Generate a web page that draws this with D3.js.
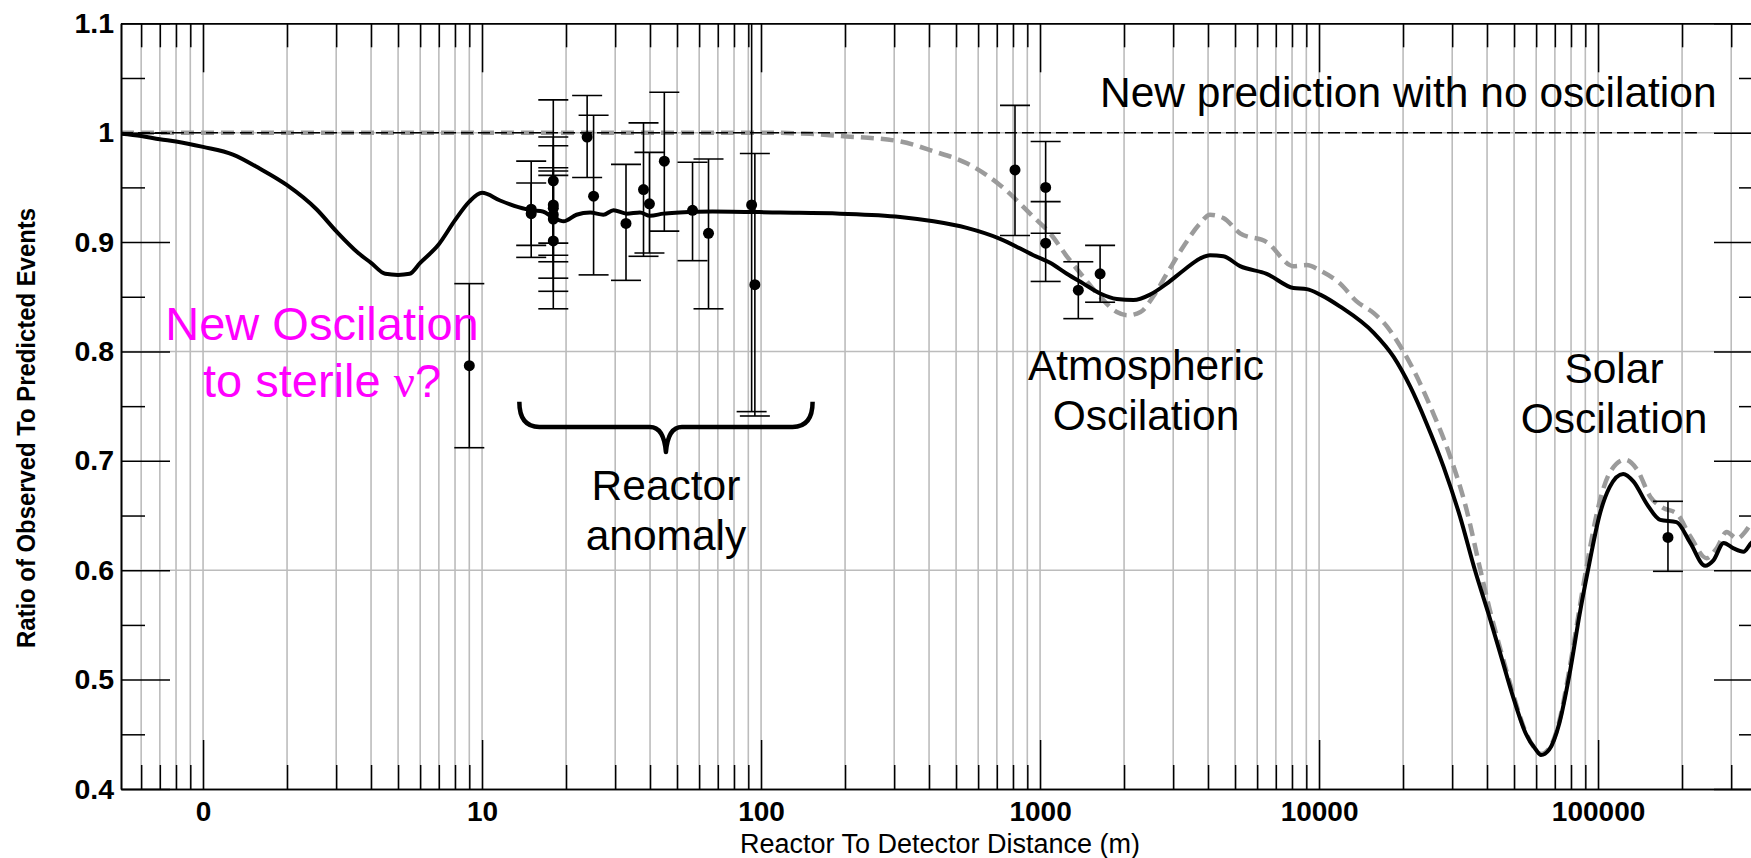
<!DOCTYPE html>
<html><head><meta charset="utf-8">
<script src="https://cdn.jsdelivr.net/npm/d3@7"></script>
<style>body{margin:0;background:#fff}svg{display:block;background:#fff}</style>
</head><body>
<svg id="chart" width="1751" height="858"></svg>
<script>
// ---------- data ----------
const xTickValues = [1, 10, 100, 1000, 10000, 100000];
const xTickLabels = ["0", "10", "100", "1000", "10000", "100000"];
const yTickValues = [0.4, 0.5, 0.6, 0.7, 0.8, 0.9, 1.0, 1.1];
const yTickLabels = ["0.4", "0.5", "0.6", "0.7", "0.8", "0.9", "1", "1.1"];
const yMinorValues = [0.45, 0.55, 0.65, 0.75, 0.85, 0.95, 1.05];
const yGridValues = [0.6, 0.8, 1.0];

// black solid: prediction with new (sterile) oscillation
const sterileDist = [0.508, 0.6, 0.7, 0.8, 1, 1.28, 1.6, 2, 2.55, 3, 3.6, 4, 4.5, 5, 5.5, 6, 7, 8, 9, 10,
  11.6, 13.5, 15.1, 16.5, 18.1, 19.6, 21.8, 24.4, 27.2, 29.6, 33, 36.8, 40, 44.7, 51, 67, 117, 192,
  315, 415, 546, 719, 946, 1086, 1247, 1430, 1641, 1884, 2162, 2480, 2845, 3264, 3745, 4064, 4539,
  5209, 6490, 8090, 9030, 10090, 11900, 15700, 18500, 21200, 24300, 27900, 32000, 36200, 40500,
  45300, 49200, 55000, 59800, 62400, 66800, 72600, 79000, 85900, 92000, 101600, 110000, 123000,
  134000, 150000, 167000, 191000, 214000, 242000, 259000, 282000, 306000, 332000, 354000, 390000];
const sterileRatio = [0.999, 0.997, 0.994, 0.992, 0.987, 0.980, 0.967, 0.952, 0.930, 0.910, 0.890, 0.881, 0.871, 0.870, 0.871, 0.881, 0.898, 0.920, 0.937, 0.945,
  0.938, 0.932, 0.929, 0.928, 0.922, 0.919, 0.925, 0.927, 0.925, 0.929, 0.926, 0.927, 0.924, 0.926, 0.927, 0.928, 0.927, 0.926,
  0.923, 0.919, 0.913, 0.903, 0.888, 0.881, 0.871, 0.862, 0.853, 0.848, 0.847, 0.852, 0.862, 0.874, 0.885, 0.888, 0.887,
  0.878, 0.871, 0.858, 0.857, 0.852, 0.841, 0.817, 0.795, 0.768, 0.734, 0.695, 0.649, 0.600, 0.560,
  0.518, 0.487, 0.451, 0.436, 0.431, 0.436, 0.460, 0.505, 0.560, 0.600, 0.652, 0.676, 0.688,
  0.681, 0.660, 0.646, 0.644, 0.625, 0.604, 0.609, 0.625, 0.620, 0.617, 0.625, 0.632];

// grey dashed: three-flavour prediction
const threeFlavorDist = [0.508, 100, 150, 192, 315, 415, 546, 719, 946, 1086, 1247, 1430, 1641, 1884, 2060, 2290,
  2540, 2845, 3264, 3745, 4064, 4539, 5209, 6490, 8090, 9030, 10090, 11900, 13600, 15700, 17500, 19300,
  21200, 25700, 29500, 33800, 37400, 40800, 45300, 49200, 55000, 59800, 62400, 66800, 72600, 79000, 85900,
  90500, 101600, 110000, 125000, 138000, 154000, 171000, 191000, 214000, 245000, 266000, 289000, 314000,
  341000, 354000, 390000];
const threeFlavorRatio = [1.0, 1.0, 0.999, 0.997, 0.992, 0.983, 0.972, 0.952, 0.923, 0.908, 0.887, 0.868, 0.850, 0.836, 0.833, 0.836,
  0.850, 0.871, 0.896, 0.917, 0.925, 0.922, 0.908, 0.900, 0.878, 0.879, 0.874, 0.862, 0.846, 0.835, 0.823, 0.807,
  0.789, 0.743, 0.704, 0.655, 0.606, 0.565, 0.522, 0.490, 0.452, 0.436, 0.432, 0.437, 0.462, 0.510, 0.566,
  0.600, 0.664, 0.689, 0.701, 0.692, 0.667, 0.657, 0.652, 0.631, 0.611, 0.620, 0.635, 0.629,
  0.637, 0.643, 0.650];

// thin dashed: new prediction with no oscillation
const noOscDist = [0.508, 226000];
const noOscRatio = [1.0, 1.0];

// reactor experiments
const expDist  = [9.0, 15, 15, 18, 18, 18, 18, 18, 18, 23.8, 25.1, 32.8, 37.9, 39.8, 45, 56.8, 64.8, 92.5, 95, 813, 1047, 1047, 1371, 1641, 178000];
const expRatio = [0.787, 0.926, 0.930, 0.956, 0.931, 0.921, 0.934, 0.901, 0.925, 0.996, 0.942, 0.917, 0.948, 0.935, 0.974, 0.929, 0.908, 0.934, 0.861, 0.966, 0.950, 0.899, 0.856, 0.871, 0.630];
const expLow   = [0.712, 0.897, 0.886, 0.882, 0.867, 0.855, 0.899, 0.839, 0.888, 0.959, 0.870, 0.865, 0.887, 0.890, 0.910, 0.883, 0.839, 0.745, 0.741, 0.906, 0.908, 0.864, 0.830, 0.845, 0.599];
const expHigh  = [0.862, 0.954, 0.974, 1.030, 0.996, 0.988, 0.968, 0.965, 0.961, 1.034, 1.016, 0.971, 1.009, 0.982, 1.037, 0.973, 0.976, 1.125, 0.981, 1.025, 0.992, 0.937, 0.882, 0.897, 0.663];

// reactor anomaly brace (distance span, ratio levels: ends, bar, tip)
const braceDist = [13.6, 45.6, 153];
const braceRatio = [0.754, 0.731, 0.708];

// ---------- layout ----------
const svg = d3.select("#chart");
const W = 1751, H = 858;
const x = d3.scaleLog().domain([0.508, 390000]).range([121, 1763]);
const y = d3.scaleLinear().domain([0.4, 1.1]).range([789, 23.3]);
const [X0, X1] = x.range();
const [Y0, Y1] = y.range(); // Y0 bottom, Y1 top

svg.append("rect").attr("width", W).attr("height", H).attr("fill", "#fff");

const defs = svg.append("defs");
defs.append("clipPath").attr("id", "plotClip").append("rect")
  .attr("x", X0).attr("y", Y1).attr("width", X1 - X0).attr("height", Y0 - Y1);
const blur = defs.append("filter").attr("id", "shadowBlur").attr("x", "-5%").attr("y", "-200%").attr("width", "110%").attr("height", "500%");
blur.append("feGaussianBlur").attr("stdDeviation", 2);

const allXTicks = x.ticks().filter(v => v > 0.508 && v <= 390000);
const minorXTicks = allXTicks.filter(v => !xTickValues.includes(v));

// grid
const grid = svg.append("g").attr("stroke", "#bcbcbc").attr("stroke-width", 1.6);
grid.selectAll("line.vx").data(allXTicks).join("line")
  .attr("x1", d => x(d)).attr("x2", d => x(d)).attr("y1", Y1).attr("y2", Y0);
grid.selectAll("line.hy").data(yGridValues).join("line")
  .attr("x1", X0).attr("x2", X1).attr("y1", d => y(d)).attr("y2", d => y(d));

const plot = svg.append("g").attr("clip-path", "url(#plotClip)");
const line = d3.line().x(d => x(d[0])).y(d => y(d[1]));
const smooth = d3.line().x(d => x(d[0])).y(d => y(d[1])).curve(d3.curveMonotoneX);

// shadow under the no-oscillation line
const noOsc = noOscDist.map((d, i) => [d, noOscRatio[i]]);
plot.append("path").datum(noOsc).attr("d", line)
  .attr("transform", "translate(0,4)")
  .attr("fill", "none").attr("stroke", "#d8d8d8").attr("stroke-width", 5)
  .attr("filter", "url(#shadowBlur)");

// three-flavour grey dashed
plot.append("path").datum(threeFlavorDist.map((d, i) => [d, threeFlavorRatio[i]]))
  .attr("d", smooth).attr("fill", "none").attr("stroke", "#9b9b9b")
  .attr("stroke-width", 4.5).attr("stroke-dasharray", "13,7");

// no oscillation thin dashed
plot.append("path").datum(noOsc).attr("d", line)
  .attr("fill", "none").attr("stroke", "#000").attr("stroke-width", 1.5)
  .attr("stroke-dasharray", "12,5");

// sterile black solid
plot.append("path").datum(sterileDist.map((d, i) => [d, sterileRatio[i]]))
  .attr("d", smooth).attr("fill", "none").attr("stroke", "#000")
  .attr("stroke-width", 4).attr("stroke-linejoin", "round");

// error bars + points
const exps = expDist.map((d, i) => ({d, r: expRatio[i], lo: expLow[i], hi: expHigh[i]}));
const eb = plot.append("g").attr("stroke", "#000").attr("stroke-width", 1.6);
eb.selectAll("line.v").data(exps).join("line")
  .attr("x1", e => x(e.d)).attr("x2", e => x(e.d))
  .attr("y1", e => y(e.lo)).attr("y2", e => y(Math.min(e.hi, 1.1)));
eb.selectAll("line.lo").data(exps).join("line")
  .attr("x1", e => x(e.d) - 15).attr("x2", e => x(e.d) + 15)
  .attr("y1", e => y(e.lo)).attr("y2", e => y(e.lo));
eb.selectAll("line.hi").data(exps.filter(e => e.hi < 1.1)).join("line")
  .attr("x1", e => x(e.d) - 15).attr("x2", e => x(e.d) + 15)
  .attr("y1", e => y(e.hi)).attr("y2", e => y(e.hi));
plot.append("g").selectAll("circle").data(exps).join("circle")
  .attr("cx", e => x(e.d)).attr("cy", e => y(e.r)).attr("r", 5.5).attr("fill", "#000");

// ---------- axes ----------
function styleAxis(g) {
  g.select(".domain").attr("stroke", "#000").attr("stroke-width", 1.6);
  g.selectAll(".tick line").attr("stroke", "#000").attr("stroke-width", 1.5);
}
const fontTick = "'Liberation Sans', Arial, Helvetica, sans-serif";

const gB = svg.append("g").attr("transform", `translate(0,${Y0})`)
  .call(d3.axisBottom(x).tickValues(xTickValues).tickFormat((d, i) => xTickLabels[i])
    .tickSizeInner(-49).tickSizeOuter(0).tickPadding(12));
styleAxis(gB);
gB.selectAll(".tick text").attr("font-family", fontTick).attr("font-weight", "bold")
  .attr("font-size", 28).attr("fill", "#000");
const gBm = svg.append("g").attr("transform", `translate(0,${Y0})`)
  .call(d3.axisBottom(x).tickValues(minorXTicks).tickFormat("").tickSizeInner(-24).tickSizeOuter(0));
styleAxis(gBm);

const gT = svg.append("g").attr("transform", `translate(0,${Y1})`)
  .call(d3.axisTop(x).tickValues(xTickValues).tickFormat("").tickSizeInner(-49).tickSizeOuter(0));
styleAxis(gT);
const gTm = svg.append("g").attr("transform", `translate(0,${Y1})`)
  .call(d3.axisTop(x).tickValues(minorXTicks).tickFormat("").tickSizeInner(-24).tickSizeOuter(0));
styleAxis(gTm);

const gL = svg.append("g").attr("transform", `translate(${X0},0)`)
  .call(d3.axisLeft(y).tickValues(yTickValues).tickFormat((d, i) => yTickLabels[i])
    .tickSizeInner(-49).tickSizeOuter(0).tickPadding(7));
styleAxis(gL);
gL.selectAll(".tick text").attr("font-family", fontTick).attr("font-weight", "bold")
  .attr("font-size", 28.5).attr("fill", "#000");
const gLm = svg.append("g").attr("transform", `translate(${X0},0)`)
  .call(d3.axisLeft(y).tickValues(yMinorValues).tickFormat("").tickSizeInner(-24).tickSizeOuter(0));
styleAxis(gLm);

const gR = svg.append("g").attr("transform", `translate(${X1},0)`)
  .call(d3.axisRight(y).tickValues(yTickValues).tickFormat("").tickSizeInner(-49).tickSizeOuter(0));
styleAxis(gR);
const gRm = svg.append("g").attr("transform", `translate(${X1},0)`)
  .call(d3.axisRight(y).tickValues(yMinorValues).tickFormat("").tickSizeInner(-24).tickSizeOuter(0));
styleAxis(gRm);

// axis titles
svg.append("text").attr("x", 940).attr("y", 853).attr("text-anchor", "middle")
  .attr("font-family", fontTick).attr("font-size", 27).attr("fill", "#000")
  .text("Reactor To Detector Distance (m)");
svg.append("text").attr("transform", "translate(35,428) rotate(-90)").attr("text-anchor", "middle")
  .attr("font-family", fontTick).attr("font-weight", "bold").attr("font-size", 25.5).attr("fill", "#000")
  .attr("textLength", 440).attr("lengthAdjust", "spacingAndGlyphs")
  .text("Ratio of Observed To Predicted Events");

// ---------- annotations ----------
const annFont = "'Liberation Sans', Arial, Helvetica, sans-serif";
function label(lines, cx, y0, dy, size, color, anchor) {
  const t = svg.append("text").attr("font-family", annFont).attr("font-size", size)
    .attr("fill", color).attr("text-anchor", anchor || "middle");
  lines.forEach((s, i) => t.append("tspan").attr("x", cx).attr("y", y0 + i * dy).text(s));
  return t;
}
label(["New prediction with no oscilation"], 1100, 107, 0, 42.5, "#000", "start");
label(["Atmospheric", "Oscilation"], 1146, 380, 50, 42.5, "#000");
label(["Solar", "Oscilation"], 1614, 383, 50, 42.5, "#000");
label(["Reactor", "anomaly"], 666, 500, 50, 42.5, "#000");

const mag = svg.append("text").attr("font-family", annFont).attr("font-size", 47)
  .attr("fill", "#ff00ff").attr("text-anchor", "middle");
mag.append("tspan").attr("x", 322).attr("y", 340).text("New Oscilation");
const l2 = mag.append("tspan").attr("x", 322).attr("y", 397);
l2.append("tspan").text("to sterile ");
l2.append("tspan").attr("font-family", "'Liberation Serif', 'Times New Roman', serif").text("ν");
l2.append("tspan").text("?");

// brace for reactor anomaly
const bx0 = x(braceDist[0]), bxm = x(braceDist[1]), bx1 = x(braceDist[2]);
const byTop = y(braceRatio[0]), byBar = y(braceRatio[1]), byTip = y(braceRatio[2]);
const bp = d3.path();
bp.moveTo(bx0, byTop);
bp.quadraticCurveTo(bx0, byBar, bx0 + 20, byBar);
bp.lineTo(bxm - 16, byBar);
bp.quadraticCurveTo(bxm - 2, byBar, bxm, byTip);
bp.quadraticCurveTo(bxm + 2, byBar, bxm + 16, byBar);
bp.lineTo(bx1 - 20, byBar);
bp.quadraticCurveTo(bx1, byBar, bx1, byTop);
svg.append("path").attr("d", bp.toString()).attr("fill", "none").attr("stroke", "#000")
  .attr("stroke-width", 4.5).attr("stroke-linejoin", "round").attr("stroke-linecap", "butt");
</script>
</body></html>
